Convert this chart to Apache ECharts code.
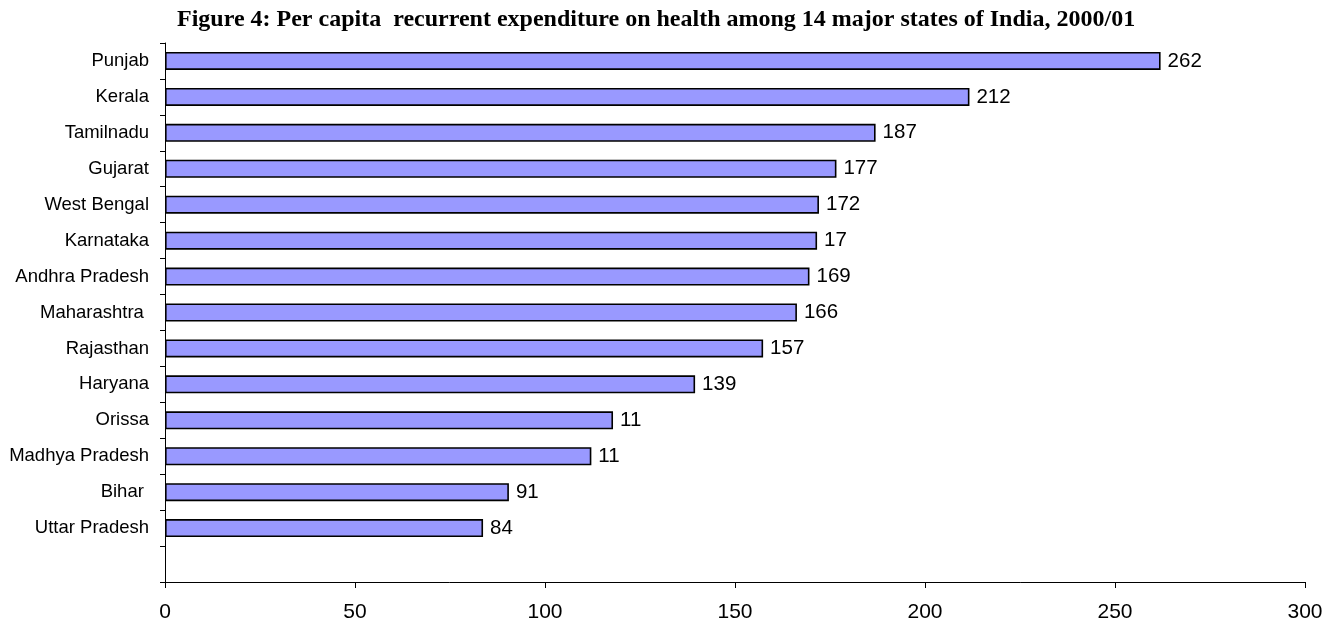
<!DOCTYPE html>
<html>
<head>
<meta charset="utf-8">
<script src="https://cdn.jsdelivr.net/npm/echarts@6/dist/echarts.min.js"></script>
<style>
html,body{margin:0;padding:0;background:#fff;}
#chart{width:1336px;height:624px;}
</style>
</head>
<body>
<div id="chart"></div>
<script>
var titleText = 'Figure 4: Per capita  recurrent expenditure on health among 14 major states of India, 2000/01';
var states = ['Punjab', 'Kerala', 'Tamilnadu', 'Gujarat', 'West Bengal', 'Karnataka', 'Andhra Pradesh', 'Maharashtra ', 'Rajasthan', 'Haryana', 'Orissa', 'Madhya Pradesh', 'Bihar ', 'Uttar Pradesh', ''];
var values = [262, 211.7, 187, 176.7, 172.1, 171.6, 169.6, 166.3, 157.4, 139.5, 117.9, 112.2, 90.5, 83.7];
var valueLabels = ['262', '212', '187', '177', '172', '17', '169', '166', '157', '139', '11', '11', '91', '84'];
var xTicks = [0, 50, 100, 150, 200, 250, 300];

var chart = echarts.init(document.getElementById('chart'), null, {renderer: 'canvas'});
chart.setOption({
  animation: false,
  backgroundColor: '#ffffff',
  title: {
    text: titleText,
    left: 172,
    top: 3,
    textStyle: {fontFamily: 'Liberation Serif', fontWeight: 'bold', fontSize: 24, color: '#000'}
  },
  grid: {left: 165, right: 31, top: 43, bottom: 42, containLabel: false},
  xAxis: {
    type: 'value',
    min: xTicks[0],
    max: xTicks[xTicks.length - 1],
    interval: xTicks[1] - xTicks[0],
    splitLine: {show: false},
    axisLine: {show: true, lineStyle: {color: '#000', width: 1}},
    axisTick: {show: true, length: 6, lineStyle: {color: '#000'}},
    axisLabel: {fontFamily: 'Liberation Sans', fontSize: 21, color: '#000', margin: 20}
  },
  yAxis: {
    type: 'category',
    inverse: true,
    data: states,
    axisLine: {show: true, lineStyle: {color: '#000', width: 1}},
    axisTick: {show: true, length: 5, lineStyle: {color: '#000'}},
    axisLabel: {fontFamily: 'Liberation Sans', fontSize: 18.5, color: '#000', margin: 16}
  },
  series: [{
    type: 'bar',
    data: values,
    barWidth: 18,
    itemStyle: {color: '#9999FF', borderColor: '#000', borderWidth: 1.6},
    label: {
      show: true,
      position: 'right',
      distance: 7,
      fontFamily: 'Liberation Sans',
      fontSize: 20.5,
      color: '#000',
      formatter: function (p) { return valueLabels[p.dataIndex]; }
    }
  }]
});
</script>
</body>
</html>
